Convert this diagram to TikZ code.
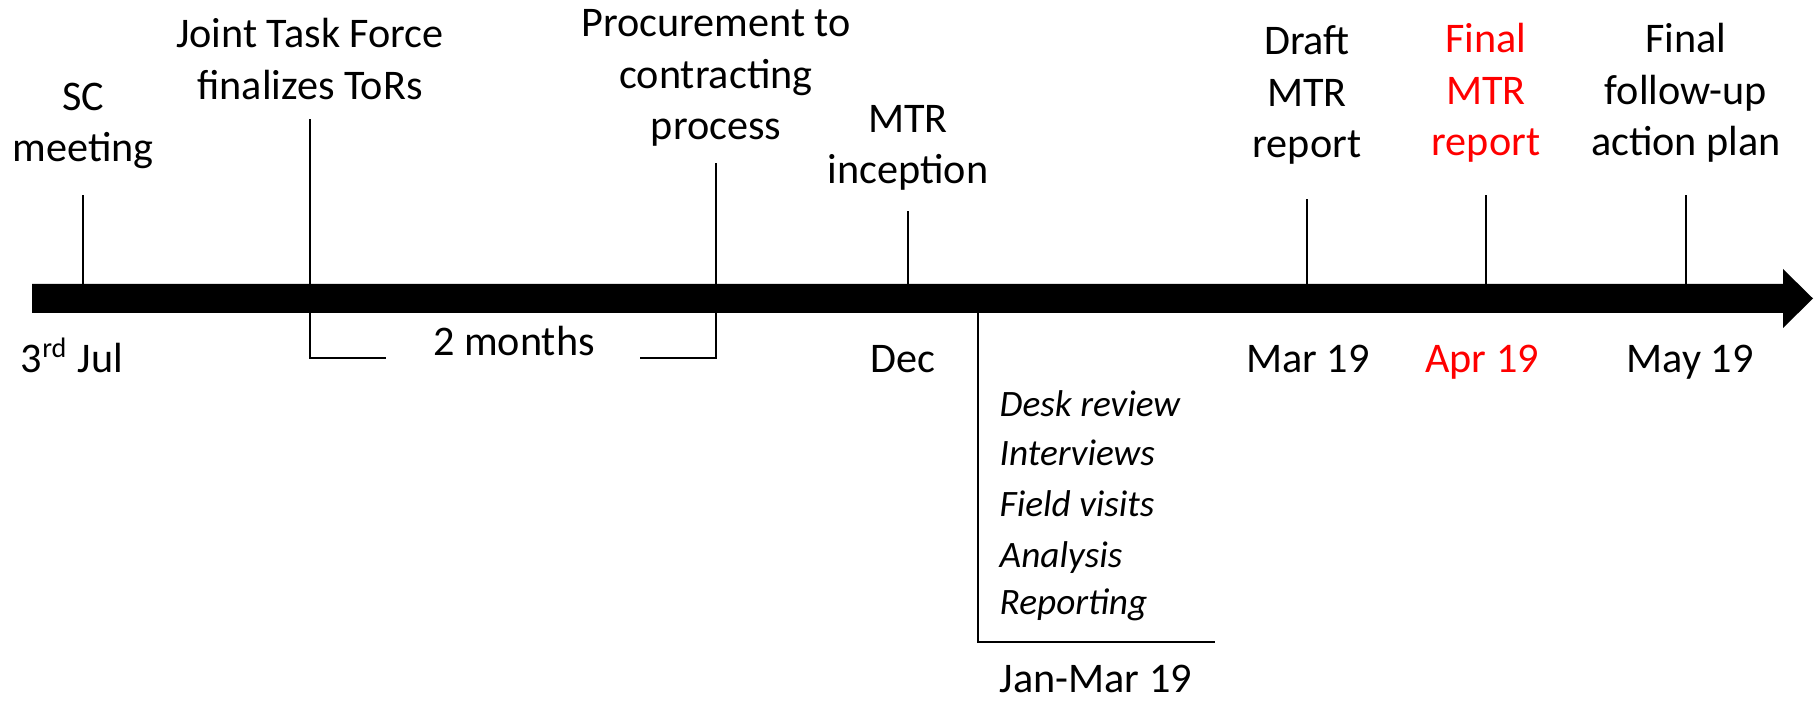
\documentclass[tikz,border=0pt]{standalone}
\usepackage{fontspec}
\setmainfont{Carlito}
\usepackage{xcolor}
\usepackage{tikz}

\begin{document}
\begin{tikzpicture}[x=0.01cm,y=-0.01cm,
  lbl/.style={font=\fontsize{12}{14.6}\selectfont,inner sep=0pt,align=center},
  tick/.style={line width=0.6pt}]
  \useasboundingbox (0,0) rectangle (1814,701);
  % timeline bar with its head
  \fill (32,284) -- (1783,284) -- (1783,269) -- (1813,298.5) -- (1783,328) -- (1783,313) -- (32,313) -- cycle;
  % events above the bar
  \foreach \nm/\x/\tp/\ty/\txt/\cl in {sc/83/195/126/{SC\\meeting}/black,
      jtf/310/119/59/{Joint Task Force\\finalizes ToRs}/black,
      proc/716/163/78/{Procurement to\\contracting\\process}/black,
      incep/908/211/148/{MTR\\inception}/black,
      draft/1307/199/95/{Draft\\MTR\\report}/black,
      final/1486/195/93/{Final\\MTR\\report}/red,
      plan/1686/195/93/{Final\\follow-up\\action plan}/black}{
    \node[lbl,text=\cl] (\nm) at (\x,\ty) {\txt};
    \coordinate (\nm-t) at (\x,\tp);
    \coordinate (\nm-b) at (\x,284);
    \draw[tick] (\nm-b) -- (\nm-t);
  }
  % dates below the bar
  \foreach \nm/\x/\txt/\cl in {jul/72/{3\textsuperscript{rd} Jul}/black, dec/903/Dec/black,
      mar/1308/Mar 19/black, apr/1482/Apr 19/red, may/1690/May 19/black}
    \node[lbl,text=\cl,anchor=base] (\nm) at (\x,373) {\txt};
  % two months span
  \node[lbl,anchor=base] (months) at (514,356) {2 months};
  \coordinate (jtf-d) at (310,313); \coordinate (m-l) at (386,358);
  \coordinate (proc-d) at (716,313); \coordinate (m-r) at (640,358);
  \draw[tick] (jtf-d) |- (m-l);
  \draw[tick] (proc-d) |- (m-r);
  % Jan-Mar work
  \coordinate (work-t) at (978,313); \coordinate (work-e) at (1215,642);
  \draw[tick] (work-t) |- (work-e);
  \foreach \nm/\y/\txt in {desk/417/Desk review, intv/466/Interviews, field/517/Field visits,
      anal/568/Analysis, rep/615/Reporting}
    \node[lbl,font=\fontsize{10.6}{13}\selectfont\itshape,anchor=base west] (\nm) at (999,\y) {\txt};
  \node[lbl,text depth=0pt,anchor=base west] (janmar) at (999,693) {Jan-Mar 19};
\end{tikzpicture}
\end{document}
